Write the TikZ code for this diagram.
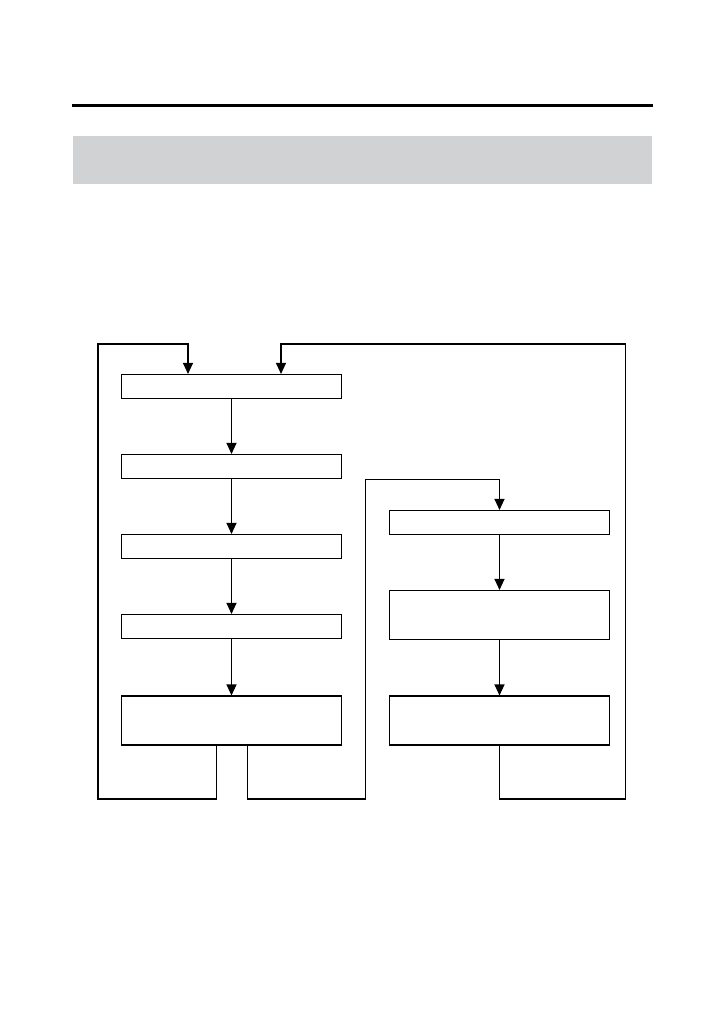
\documentclass[tikz,border=0pt]{standalone}
\usetikzlibrary{arrows.meta}
\definecolor{bargrey}{RGB}{209,210,212}
\begin{document}
\begin{tikzpicture}[x=1pt,y=-1pt,
  box/.style={draw=black,line width=1.1pt,fill=white,rectangle,inner sep=0pt,minimum width=220.5pt},
  sbox/.style={box,minimum height=24pt},
  tbox/.style={box,minimum height=49pt},
  link/.style={draw=black,line width=1.1pt,-{Triangle[length=11pt,width=10pt]}},
  plain/.style={draw=black,line width=1.1pt}]
\useasboundingbox (0,0) rectangle (725,1027);
\fill[white] (0,0) rectangle (725,1027);
% header rule and grey bar
\coordinate (r1) at (72,105.5);
\coordinate (r2) at (652.5,105.5);
\draw[line width=3pt] (r1) -- (r2);
\fill[bargrey] (72.5,136) rectangle (651.5,184);
% left column
\node[sbox] (b1) at (231.5,386.5) {};
\node[sbox] (b2) at (231.5,466.5) {};
\node[sbox] (b3) at (231.5,546.5) {};
\node[sbox] (b4) at (231.5,626.5) {};
\node[tbox] (b5) at (231.5,720.5) {};
% right column
\node[sbox] (b6) at (499.5,522.5) {};
\node[tbox] (b7) at (499.5,615) {};
\node[tbox] (b8) at (499.5,720.5) {};
% straight links
\draw[link] (b1) -- (b2);
\draw[link] (b2) -- (b3);
\draw[link] (b3) -- (b4);
\draw[link] (b4) -- (b5);
\draw[link] (b6) -- (b7);
\draw[link] (b7) -- (b8);
% loop corners
\coordinate (a0) at ([xshift=-15pt]b5.south);
\coordinate (a1) at (216.5,799);
\coordinate (a2) at (98,799);
\coordinate (a3) at (98,344);
\coordinate (a4) at (188,344);
\coordinate (a5) at ([xshift=-43.5pt]b1.north);
\draw[link] (a0) -- (a1) -- (a2) -- (a3) -- (a4) -- (a5);
\coordinate (c0) at ([xshift=16pt]b5.south);
\coordinate (c1) at (247.5,799);
\coordinate (c2) at (365.5,799);
\coordinate (c3) at (365.5,479.5);
\coordinate (c4) at (499.5,479.5);
\draw[link] (c0) -- (c1) -- (c2) -- (c3) -- (c4) -- (b6.north);
\coordinate (d1) at (499.5,799);
\coordinate (d2) at (625.5,799);
\coordinate (d3) at (625.5,344);
\coordinate (d4) at (281,344);
\coordinate (d5) at ([xshift=49.5pt]b1.north);
\draw[link] (b8.south) -- (d1) -- (d2) -- (d3) -- (d4) -- (d5);
\end{tikzpicture}
\end{document}
